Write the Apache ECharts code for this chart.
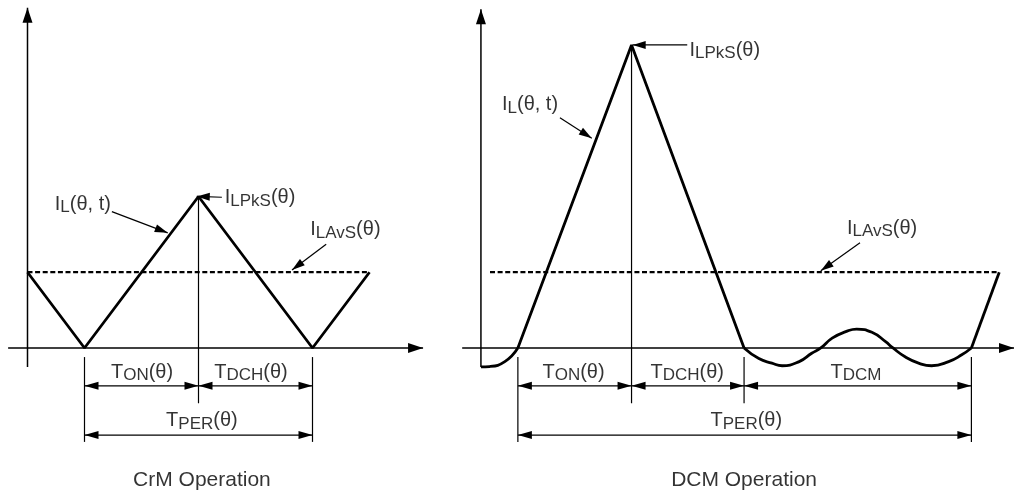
<!DOCTYPE html>
<html>
<head>
<meta charset="utf-8">
<title>CrM / DCM inductor current</title>
<script src="https://cdn.jsdelivr.net/npm/echarts@6/dist/echarts.min.js"></script>
<style>
  html, body { margin: 0; padding: 0; background: #fff; }
  #main { width: 1018px; height: 493px; }
</style>
</head>
<body>
<div id="main"></div>
<script>
// time in units of T_ON/2 measured from the current axis, current in units of I_LAvS

// CrM operation
var crmTime    = [0, 1, 3, 5, 6];
var crmCurrent = [1, 0, 2, 0, 1];
var crmAvgSpan = [0, 6];
var crmMarks   = [1, 3, 5];              // T_ON start, peak, T_DCH end

// DCM operation
var dcmLeadTime     = [0, 0.15, 0.42, 0.65];
var dcmLeadCurrent  = [-0.25, -0.245, -0.18, 0];
var dcmPulseTime    = [0.65, 2.65, 4.63];
var dcmPulseCurrent = [0, 4, 0];
var dcmRingTime     = [4.63, 4.89, 5.12, 5.30, 5.60, 5.82, 5.98, 6.18, 6.42, 6.61,
                       6.88, 7.12, 7.25, 7.47, 7.70, 7.93, 8.23, 8.46, 8.63];
var dcmRingCurrent  = [0, -0.14, -0.2, -0.235, -0.18, -0.07, 0, 0.13, 0.215, 0.25,
                       0.207, 0.083, 0, -0.12, -0.2, -0.235, -0.18, -0.09, 0];
var dcmTailTime     = [8.63, 9.12];
var dcmTailCurrent  = [0, 1];
var dcmAvgSpan = [0.16, 9.12];
var dcmMarks   = [0.65, 2.65, 4.63, 8.63]; // T_ON start, peak, T_DCH end, T_DCM end

var avgLevel = 1;

// annotation texts
var crmNotes = [
    [0.97, 1.90, 'center', '{m|I}{s|L}{m|(θ, t)}'],
    [3.46, 1.98, 'left',   '{m|I}{s|LPkS}{m|(θ)}'],
    [4.96, 1.56, 'left',   '{m|I}{s|LAvS}{m|(θ)}'],
    [2.01, -0.32, 'center', '{m|T}{s|ON}{m|(θ)}'],
    [3.92, -0.32, 'center', '{m|T}{s|DCH}{m|(θ)}'],
    [3.06, -0.96, 'center', '{m|T}{s|PER}{m|(θ)}'],
    [3.06, -1.74, 'center', '{c|CrM Operation}']
];
var dcmNotes = [
    [0.37, 3.21, 'left',   '{m|I}{s|L}{m|(θ, t)}'],
    [3.67, 3.93, 'left',   '{m|I}{s|LPkS}{m|(θ)}'],
    [6.44, 1.58, 'left',   '{m|I}{s|LAvS}{m|(θ)}'],
    [1.63, -0.32, 'center', '{m|T}{s|ON}{m|(θ)}'],
    [3.63, -0.32, 'center', '{m|T}{s|DCH}{m|(θ)}'],
    [6.60, -0.32, 'center', '{m|T}{s|DCM}'],
    [4.67, -0.96, 'center', '{m|T}{s|PER}{m|(θ)}'],
    [4.63, -1.74, 'center', '{c|DCM Operation}']
];

// pointer arrows: tail x, tail y, tip x, tip y
var crmPointers = [[1.48, 1.80, 2.46, 1.52], [3.41, 1.99, 2.97, 2], [5.24, 1.37, 4.64, 1.03]];
var dcmPointers = [[1.39, 3.04, 1.95, 2.77], [3.63, 4, 2.67, 4], [6.67, 1.39, 5.98, 1.02]];

// axis extents (x from, x to, y from, y to)
var crmAxes = [-0.34, 6.94, -0.25, 4.49];
var dcmAxes = [-0.33, 9.38, -0.25, 4.47];

var dimLevel = -0.5, perLevel = -1.15, extTop = -0.12, extShort = -0.73, extLong = -1.24;

var FONT = '"Liberation Sans", Arial, Helvetica, sans-serif';
var INK = '#000';

function pairs(xs, ys) {
    return xs.map(function (x, i) { return [x, ys[i]]; });
}
// x1, y1, x2, y2, heads (0 none, 1 at end, 2 at both ends)
function seg(x1, y1, x2, y2, heads) {
    return [x1, y1, x2, y2, heads || 0];
}
function curve(g, data, smooth) {
    return {
        type: 'line', xAxisIndex: g, yAxisIndex: g, data: data, smooth: smooth,
        symbol: 'none', silent: true,
        lineStyle: { color: INK, width: 2.8 }
    };
}
function avgLine(g, span) {
    return {
        type: 'line', xAxisIndex: g, yAxisIndex: g, symbol: 'none', silent: true,
        data: [[span[0], avgLevel], [span[1], avgLevel]],
        lineStyle: { color: INK, width: 2.2, type: [5, 2.6] }
    };
}
function head(tip, from, len, wid) {
    var dx = tip[0] - from[0], dy = tip[1] - from[1];
    var d = Math.sqrt(dx * dx + dy * dy) || 1;
    var ux = dx / d, uy = dy / d;
    var bx = tip[0] - ux * len, by = tip[1] - uy * len;
    return {
        type: 'polygon',
        shape: { points: [tip, [bx - uy * wid / 2, by + ux * wid / 2], [bx + uy * wid / 2, by - ux * wid / 2]] },
        style: { fill: INK }
    };
}
function strokes(g, rows, width, len, wid) {
    return {
        type: 'custom', xAxisIndex: g, yAxisIndex: g, silent: true,
        data: rows,
        renderItem: function (params, api) {
            var a = api.coord([api.value(0), api.value(1)]);
            var b = api.coord([api.value(2), api.value(3)]);
            var heads = api.value(4);
            var kids = [{
                type: 'line',
                shape: { x1: a[0], y1: a[1], x2: b[0], y2: b[1] },
                style: { stroke: INK, lineWidth: width, fill: null }
            }];
            if (heads >= 1) kids.push(head(b, a, len, wid));
            if (heads >= 2) kids.push(head(a, b, len, wid));
            return { type: 'group', children: kids };
        }
    };
}
function notes(g, list) {
    return {
        type: 'scatter', xAxisIndex: g, yAxisIndex: g, symbolSize: 0, silent: true,
        data: list.map(function (n) {
            return {
                value: [n[0], n[1]], text: n[3],
                label: { align: n[2] }
            };
        }),
        label: {
            show: true, position: 'inside', verticalAlign: 'middle',
            formatter: function (p) { return p.data.text; },
            rich: {
                m: { fontFamily: FONT, fontSize: 20, color: INK },
                s: { fontFamily: FONT, fontSize: 17, color: INK, padding: [7, 0, 0, 0] },
                c: { fontFamily: FONT, fontSize: 21, color: INK }
            }
        }
    };
}
function axisSegs(a) {
    return [seg(a[0], 0, a[1], 0, 1), seg(0, a[2], 0, a[3], 1)];
}
function pointerSegs(list) {
    return list.map(function (p) { return seg(p[0], p[1], p[2], p[3], 1); });
}

var crmDims = [
    seg(crmMarks[0], extTop, crmMarks[0], extLong),
    seg(crmMarks[2], extTop, crmMarks[2], extLong),
    seg(crmMarks[1], crmCurrent[2], crmMarks[1], extShort),
    seg(crmMarks[0], dimLevel, crmMarks[1], dimLevel, 2),
    seg(crmMarks[1], dimLevel, crmMarks[2], dimLevel, 2),
    seg(crmMarks[0], perLevel, crmMarks[2], perLevel, 2)
];
var dcmDims = [
    seg(dcmMarks[0], extTop, dcmMarks[0], extLong),
    seg(dcmMarks[3], extTop, dcmMarks[3], extLong),
    seg(dcmMarks[2], extTop, dcmMarks[2], extShort),
    seg(dcmMarks[1], dcmPulseCurrent[1], dcmMarks[1], extShort),
    seg(dcmMarks[0], dimLevel, dcmMarks[1], dimLevel, 2),
    seg(dcmMarks[1], dimLevel, dcmMarks[2], dimLevel, 2),
    seg(dcmMarks[2], dimLevel, dcmMarks[3], dimLevel, 2),
    seg(dcmMarks[0], perLevel, dcmMarks[3], perLevel, 2)
];

var hiddenAxis = {
    type: 'value', axisLine: { show: false }, axisTick: { show: false },
    axisLabel: { show: false }, splitLine: { show: false }
};
function axis(g, min, max) {
    return Object.assign({}, hiddenAxis, { gridIndex: g, min: min, max: max });
}

var myChart = echarts.init(document.getElementById('main'), null, { renderer: 'canvas' });
option = {
    backgroundColor: '#fff',
    animation: false,
    grid: [
        { left: 4.7, top: 3.3, width: 421.8, height: 488.6 },
        { left: 458.2, top: 3.3, width: 561.5, height: 488.6 }
    ],
    xAxis: [axis(0, -0.4, 7), axis(1, -0.4, 9.45)],
    yAxis: [axis(0, -1.9, 4.55), axis(1, -1.9, 4.55)],
    series: [
        strokes(0, axisSegs(crmAxes), 1.5, 15, 10),
        strokes(0, crmDims, 1.2, 14, 8),
        strokes(0, pointerSegs(crmPointers), 1.2, 13, 8),
        avgLine(0, crmAvgSpan),
        curve(0, pairs(crmTime, crmCurrent), false),
        notes(0, crmNotes),

        strokes(1, axisSegs(dcmAxes), 1.5, 15, 10),
        strokes(1, dcmDims, 1.2, 14, 8),
        strokes(1, pointerSegs(dcmPointers), 1.2, 13, 8),
        avgLine(1, dcmAvgSpan),
        curve(1, pairs(dcmLeadTime, dcmLeadCurrent), 0.5),
        curve(1, pairs(dcmPulseTime, dcmPulseCurrent), false),
        curve(1, pairs(dcmRingTime, dcmRingCurrent), 0.5),
        curve(1, pairs(dcmTailTime, dcmTailCurrent), false),
        notes(1, dcmNotes)
    ]
};
myChart.setOption(option);
</script>
</body>
</html>
